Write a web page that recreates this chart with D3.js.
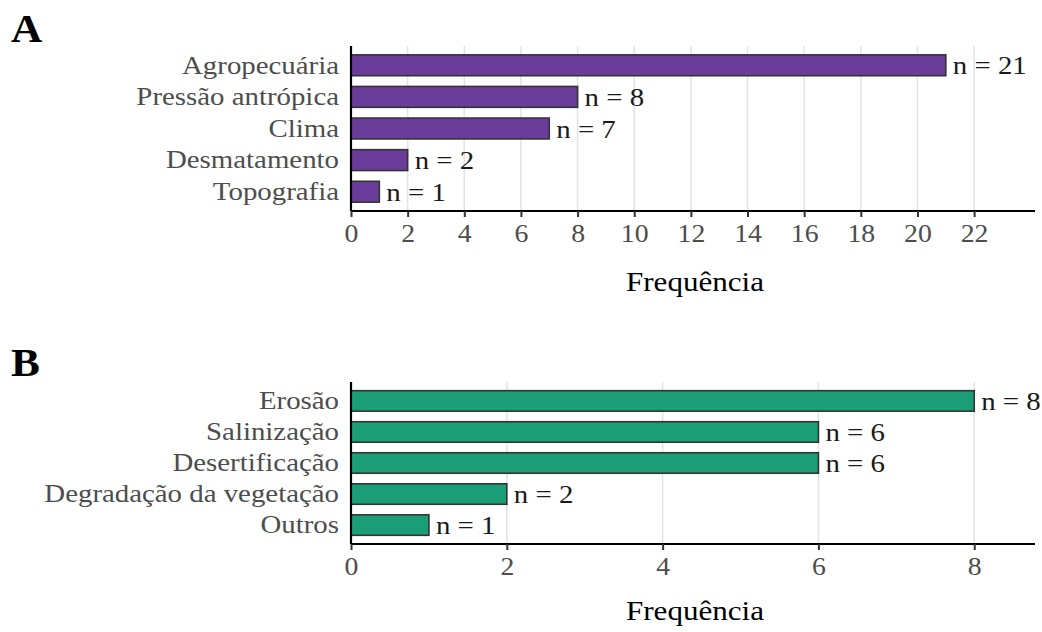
<!DOCTYPE html>
<html>
<head>
<meta charset="utf-8">
<script src="https://cdn.jsdelivr.net/npm/d3@7"></script>
<style>
  body { margin: 0; background: #fff; }
  svg text { font-family: "Liberation Serif", "Times New Roman", serif; }
</style>
</head>
<body>
<svg id="chart" width="1042" height="632"></svg>
<script>
// Panel A data
const categoriesA = ["Agropecuária", "Pressão antrópica", "Clima", "Desmatamento", "Topografia"];
const valuesA = [21, 8, 7, 2, 1];
const ticksA = [0, 2, 4, 6, 8, 10, 12, 14, 16, 18, 20, 22];

// Panel B data
const categoriesB = ["Erosão", "Salinização", "Desertificação", "Degradação da vegetação", "Outros"];
const valuesB = [8, 6, 6, 2, 1];
const ticksB = [0, 2, 4, 6, 8];

const axisTitle = "Frequência";

const SX = 1.11; // horizontal text stretch seen in the reference
const svg = d3.select("#chart");

function stretch(sel) {
  sel.each(function () {
    const t = d3.select(this);
    const x = +t.attr("x") || 0, y = +t.attr("y") || 0;
    t.attr("x", 0).attr("y", 0).attr("transform", `translate(${x},${y}) scale(${SX},1)`);
  });
}

function panel(opts) {
  const { letter, letterY, cats, vals, ticks, xmax, top, bottom, color, titleY } = opts;
  const left = 351, right = 1035;
  const g = svg.append("g");
  const x = d3.scaleLinear().domain([0, xmax]).range([left, right]);
  const y = d3.scaleBand().domain(cats).range([top, bottom]).paddingInner(0.34).paddingOuter(0.28);

  // gridlines
  g.append("g").selectAll("line").data(ticks.filter(t => t > 0)).join("line")
    .attr("x1", d => x(d)).attr("x2", d => x(d))
    .attr("y1", top).attr("y2", bottom)
    .attr("stroke", "#e3e3e3").attr("stroke-width", 1.5);

  // bars
  g.append("g").selectAll("rect").data(vals).join("rect")
    .attr("x", x(0))
    .attr("y", (d, i) => y(cats[i]))
    .attr("width", d => x(d) - x(0))
    .attr("height", y.bandwidth())
    .attr("fill", color)
    .attr("stroke", "#333333")
    .attr("stroke-width", 1.6);

  // value labels
  g.append("g").selectAll("text").data(vals).join("text")
    .attr("x", d => x(d) + 7)
    .attr("y", (d, i) => y(cats[i]) + y.bandwidth() / 2)
    .attr("dy", "0.35em")
    .attr("font-size", 26)
    .attr("fill", "#1a1a1a")
    .text(d => "n = " + d)
    .call(stretch);

  // y axis
  const yAxis = d3.axisLeft(y).tickSize(0).tickPadding(12);
  const ya = g.append("g").attr("transform", `translate(${left},0)`).call(yAxis);
  ya.select(".domain").attr("stroke", "#000").attr("stroke-width", 2.2)
    .attr("d", `M0,${top}V${bottom}`);
  ya.selectAll("text").attr("font-size", 26).attr("fill", "#4d4d4d")
    .style("font-family", '"Liberation Serif", serif').call(stretch);

  // x axis
  const xAxis = d3.axisBottom(x).tickValues(ticks).tickSize(6).tickPadding(7).tickFormat(d3.format("d"));
  const xa = g.append("g").attr("transform", `translate(0,${bottom})`).call(xAxis);
  xa.select(".domain").attr("stroke", "#000").attr("stroke-width", 2.2)
    .attr("d", `M${left},0H${right}`);
  xa.selectAll(".tick line").attr("stroke", "#333").attr("stroke-width", 2);
  xa.selectAll("text").attr("font-size", 25).attr("fill", "#4d4d4d")
    .style("font-family", '"Liberation Serif", serif').call(stretch);

  // axis title
  g.append("text")
    .attr("x", (left + right) / 2 + 2)
    .attr("y", titleY)
    .attr("text-anchor", "middle")
    .attr("font-size", 28)
    .attr("fill", "#000")
    .text(axisTitle)
    .call(stretch);

  // panel letter
  g.append("text")
    .attr("x", 11)
    .attr("y", letterY)
    .attr("font-size", 39)
    .attr("font-weight", "bold")
    .attr("fill", "#000")
    .text(letter)
    .call(stretch);
}

panel({ letter: "A", letterY: 42, cats: categoriesA, vals: valuesA, ticks: ticksA,
        xmax: 24.15, top: 46, bottom: 211, color: "#6a3d9a", titleY: 291 });
panel({ letter: "B", letterY: 376, cats: categoriesB, vals: valuesB, ticks: ticksB,
        xmax: 8.78, top: 382, bottom: 544, color: "#1b9e77", titleY: 620 });
</script>
</body>
</html>
